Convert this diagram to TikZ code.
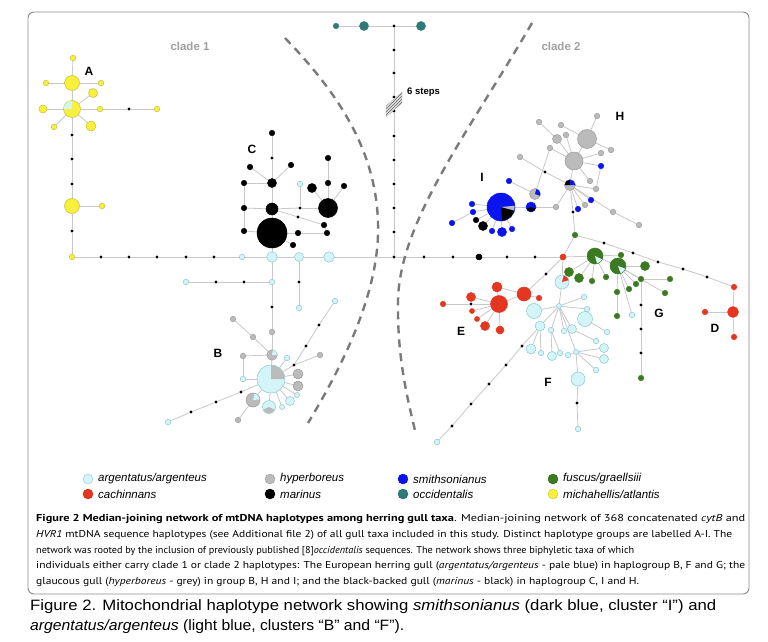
\documentclass[tikz,border=0pt]{standalone}
\usepackage{fontspec}
\setmainfont{Liberation Sans}
\newfontfamily\capfont{PT Sans}
\usepackage{graphicx}
\usetikzlibrary{backgrounds,patterns}
\definecolor{pbf}{HTML}{D3F5F7}
\definecolor{pbd}{HTML}{8CC6CC}
\definecolor{grf}{HTML}{BBBBBB}
\definecolor{grd}{HTML}{9B9B9B}
\definecolor{blf}{HTML}{0A14F0}
\definecolor{tlf}{HTML}{2F7A78}
\definecolor{gnf}{HTML}{3B7A20}
\definecolor{ylf}{HTML}{F8F03C}
\definecolor{yld}{HTML}{C8BE3A}
\definecolor{rdf}{HTML}{E5361F}
\definecolor{lnkc}{HTML}{C8C8C8}
\definecolor{cladec}{HTML}{A0A0A0}
\definecolor{dashc}{HTML}{7A7A7A}
\definecolor{framec}{HTML}{8A8A8A}
\newcommand\hp[5]{\node[#1,dia=#2] (#3) at (#4,#5) {};}
\newcommand\mv[3]{\node[MV] (#1) at (#2,#3) {};}
\newcommand\sect[5]{\fill[#5] (#1.center) -- ++(#3:#2pt) arc[start angle=#3,end angle=#4,radius=#2pt] -- cycle;}
\begin{document}
\begin{tikzpicture}[x=1pt,y=-1pt,
 hap/.style={circle,inner sep=0pt,outer sep=0pt,line width=0.5pt},
 dia/.style={minimum size=#1pt},
 PB/.style={hap,fill=pbf,draw=pbd},
 GR/.style={hap,fill=grf,draw=grd},
 BL/.style={hap,fill=blf,draw=blf},
 BK/.style={hap,fill=black,draw=black},
 TL/.style={hap,fill=tlf,draw=tlf},
 GN/.style={hap,fill=gnf,draw=gnf},
 YL/.style={hap,fill=ylf,draw=yld},
 RD/.style={hap,fill=rdf,draw=rdf},
 MV/.style={hap,fill=black,minimum size=3.4pt},
 lnk/.style={draw=lnkc,line width=0.8pt},
 grp/.style={font=\bfseries\fontsize{12}{12}\selectfont,inner sep=0pt},
 clade/.style={text=cladec,font=\bfseries\fontsize{11.5}{12}\selectfont,inner sep=0pt},
 cladeline/.style={draw=dashc,line width=2.4pt,dash pattern=on 8pt off 6pt},
 leg/.style={font=\itshape\fontsize{11.5}{12}\selectfont,anchor=west,inner sep=0pt},
 legdot/.style={circle,inner sep=0pt,minimum size=10pt,line width=0.4pt},
]
\useasboundingbox (0,0) rectangle (768,642);
\draw[framec,line width=0.9pt,rounded corners=6pt] (28,12) rectangle (749,594);

% clade dividers
\draw[cladeline] (285,38) .. controls (345,100) and (380,160) .. (378,235) .. controls (376,300) and (340,370) .. (308,423);
\draw[cladeline] (532,23) .. controls (470,130) and (400,220) .. (398,300) .. controls (397,360) and (408,400) .. (416,435);
\node[clade] (cl1) at (190,46) {clade 1};
\node[clade] (cl2) at (561,46) {clade 2};

% ---- cluster A
\hp{YL}{5.5}{a1}{73}{58}
\hp{YL}{15}{a2}{72}{83}
\hp{YL}{5.5}{a3}{46}{83}
\hp{YL}{5.5}{a4}{101}{83}
\hp{YL}{9}{a5}{93}{93}
\hp{YL}{17}{a6}{72}{109}
\hp{YL}{8}{a7}{43}{109}
\hp{YL}{5.5}{a8}{100}{109}
\mv{a9}{129}{109}
\hp{YL}{5.5}{a10}{157}{109}
\hp{YL}{5.5}{a11}{54}{127}
\hp{YL}{10}{a12}{91}{126}
\mv{m1}{72}{135}\mv{m2}{72}{159}\mv{m3}{72}{184}
\hp{YL}{15}{a13}{72}{206}
\hp{YL}{5.5}{a14}{102}{206}
\mv{m4}{72}{231}
\hp{YL}{5.5}{a15}{72}{257}
\sect{a6}{8.2}{90}{180}{pbf}
\node[grp] (lA) at (89,71) {A};

% ---- horizontal backbone
\mv{h1}{101}{257}\mv{h2}{129}{257}\mv{h3}{157}{257}\mv{h4}{186}{257}\mv{h5}{214}{257}
\hp{PB}{5.5}{p1}{242}{257}
\hp{PB}{10.5}{p2}{272}{257}
\hp{PB}{9}{p3}{299}{257}
\hp{PB}{10.5}{p4}{329}{257}
\mv{h6}{394}{257}\mv{h7}{424}{257}\mv{h8}{453}{257}
\hp{BK}{6}{h9}{479}{257}
\mv{h10}{507}{257}\mv{h11}{535}{257}
\hp{RD}{6}{r1}{563}{257}

% ---- occidentalis root
\hp{TL}{5.5}{t1}{336}{26}
\hp{TL}{9}{t2}{364}{26}
\mv{v0}{394}{26}
\hp{TL}{9}{t3}{421}{26}
\mv{v1}{394}{50}\mv{v2}{394}{73}\mv{v3}{394}{97}\mv{v4}{394}{111}
\mv{v5}{394}{136}\mv{v6}{394}{160}\mv{v7}{394}{184}\mv{v8}{394}{208}\mv{v9}{394}{232}

% ---- cluster C
\hp{BK}{5.5}{c1}{272}{133}
\mv{cm1}{272}{158}
\hp{BK}{5.5}{c2}{250}{167}
\hp{BK}{5.5}{c3}{291}{165}
\hp{BK}{9}{c4}{272}{183}
\hp{BK}{5.5}{c5}{244}{183}
\hp{BK}{12}{c6}{272}{209}
\hp{BK}{5.5}{c7}{244}{208}
\hp{BK}{30}{c8}{272}{233}
\hp{BK}{5.5}{c9}{244}{231}
\hp{PB}{5.5}{cp1}{300}{184}
\mv{cm2}{300}{208}
\hp{BK}{9}{c10}{312}{188}
\hp{BK}{5.5}{c11}{328}{158}
\hp{BK}{5.5}{c12}{328}{183}
\hp{BK}{5.5}{c13}{344}{186}
\hp{BK}{19}{c14}{328}{208}
\mv{cm3}{298}{217}
\hp{BK}{5.5}{c15}{324}{225}
\hp{BK}{5.5}{c16}{298}{233}
\hp{BK}{5.5}{c17}{327}{233}
\hp{BK}{5.5}{c18}{293}{245}
\node[grp] (lC) at (252,149) {C};

% ---- link rows to B
\mv{pm}{299}{282}
\hp{PB}{5.5}{pp}{299}{308}
\hp{PB}{5.5}{q1}{186}{282}
\mv{qm1}{216}{282}\mv{qm2}{244}{282}
\hp{PB}{5.5}{q2}{272}{282}
\mv{bm}{272}{307}

% ---- cluster B
\hp{PB}{28}{B0}{271}{379}
\hp{GR}{5.5}{bg1}{233}{319}
\hp{GR}{5.5}{bg2}{253}{337}
\hp{GR}{5.5}{b1}{272}{332}
\hp{GR}{10.5}{b2}{272}{355}
\hp{GR}{5.5}{bg3}{243}{356}
\hp{PB}{5.5}{bp1}{243}{379}
\hp{PB}{5.5}{bp2}{287}{358}
\hp{GR}{5.5}{bg4}{320}{355}
\mv{bm1}{294}{365}\mv{bm2}{306}{346}\mv{bm3}{319}{325}
\hp{PB}{5.5}{bp3}{335}{301}
\hp{GR}{10}{bg5}{298}{374}
\hp{GR}{10}{bg6}{298}{386}
\hp{PB}{5}{bp4}{297}{395}
\hp{PB}{9}{bp5}{290}{401}
\hp{PB}{5}{bp6}{282}{407}
\hp{PB}{13}{bx1}{269}{407}
\hp{GR}{14}{bx2}{253}{400}
\hp{GR}{5.5}{bg7}{238}{420}
\mv{bm4}{241}{392}\mv{bm5}{216}{402}\mv{bm6}{191}{412}
\hp{PB}{5.5}{bq}{168}{422}
\sect{B0}{13.7}{0}{90}{grf}
\sect{b2}{5}{0}{80}{pbf}
\sect{bx1}{6.2}{205}{335}{grf}
\sect{bx2}{6.7}{5}{75}{pbf}
\node[grp] (lB) at (218,353) {B};

% ---- cluster E
\hp{RD}{17}{e0}{499}{304}
\hp{RD}{10}{e1}{497}{287}
\hp{RD}{9}{e2}{471}{297}
\mv{em}{471}{304}
\hp{RD}{5.5}{e3}{443}{304}
\hp{RD}{5}{e4}{472}{311}
\hp{RD}{5}{e5}{477}{319}
\hp{RD}{9}{e6}{485}{326}
\hp{RD}{8}{e7}{500}{330}
\hp{RD}{14}{e8}{524}{294}
\hp{RD}{5.5}{e9}{539}{298}
\mv{gm}{546}{274}
\node[grp] (lE) at (461,331) {E};

% ---- cluster F
\hp{PB}{14}{f0}{562}{282}
\hp{PB}{5}{fh}{559}{306}
\hp{PB}{5.5}{f1}{584}{297}
\hp{PB}{5.5}{f2}{587}{309}
\hp{PB}{15}{f3}{585}{319}
\hp{PB}{15}{f4}{534}{311}
\hp{PB}{10}{f5}{540}{326}
\hp{PB}{5.5}{f6}{551}{330}
\hp{PB}{5.5}{f7}{564}{331}
\hp{PB}{9}{f8}{572}{329}
\hp{PB}{5.5}{f9}{596}{341}
\hp{PB}{5.5}{f10}{607}{332}
\hp{PB}{10}{f11}{531}{349}
\hp{PB}{5.5}{f12}{541}{353}
\hp{PB}{9}{f13}{552}{356}
\hp{PB}{5.5}{f14}{560}{353}
\hp{PB}{5.5}{f15}{568}{355}
\hp{PB}{5}{fh2}{576}{352}
\hp{PB}{9}{f16}{604}{348}
\hp{PB}{9}{f17}{604}{359}
\hp{PB}{5.5}{f18}{596}{370}
\hp{PB}{14}{f19}{578}{379}
\mv{fm1}{577}{403}
\hp{PB}{5.5}{f20}{578}{429}
\mv{fb1}{522}{346}\mv{fb2}{506}{365}\mv{fb3}{489}{384}\mv{fb4}{471}{404}\mv{fb5}{452}{426}
\hp{PB}{5.5}{fq}{437}{442}
\sect{f0}{6.8}{15}{75}{rdf}
\node[grp] (lF) at (548,382) {F};

% ---- cluster G
\hp{GN}{5.5}{g0}{575}{235}
\hp{GN}{16}{G1}{595}{256}
\hp{GN}{16}{G2}{618}{266}
\hp{GN}{9}{g1}{569}{272}
\hp{GN}{9}{g2}{579}{278}
\hp{GN}{5.5}{g3}{592}{281}
\hp{GN}{5.5}{g4}{606}{277}
\hp{GN}{5.5}{g5}{621}{255}
\hp{GN}{9}{g6}{645}{266}
\hp{GN}{5.5}{g7}{636}{284}
\hp{GN}{5.5}{g8}{629}{289}
\hp{GN}{5.5}{g9}{641}{279}
\hp{GN}{5.5}{g10}{670}{279}
\hp{GN}{5.5}{g11}{665}{293}
\hp{GN}{5.5}{g12}{617}{292}
\hp{GN}{5.5}{g13}{617}{316}
\hp{PB}{5.5}{gp}{632}{315}
\mv{gm1}{641}{305}\mv{gm2}{641}{329}\mv{gm3}{641}{353}
\hp{GN}{5.5}{g14}{641}{378}
\sect{G1}{7.7}{-75}{-25}{pbf}
\sect{G2}{7.7}{-70}{-20}{pbf}
\node[grp] (lG) at (659,313) {G};

% ---- cluster D
\mv{dm1}{604}{243}\mv{dm2}{633}{253}\mv{dm3}{658}{262}\mv{dm4}{683}{269}\mv{dm5}{707}{277}
\hp{RD}{5.5}{d1}{734}{287}
\hp{RD}{11}{d2}{733}{312}
\hp{RD}{5.5}{d3}{734}{337}
\hp{RD}{5.5}{d4}{705}{312}
\node[grp] (lD) at (715,328) {D};

% ---- clusters I and H
\hp{BL}{28}{I0}{501}{207}
\hp{BL}{5.5}{i1}{472}{204}
\hp{BL}{5.5}{i2}{473}{212}
\hp{BL}{5.5}{i3}{452}{223}
\hp{BK}{5.5}{i4}{476}{220}
\hp{BK}{9}{i5}{483}{226}
\hp{BL}{5.5}{i6}{492}{231}
\hp{BL}{9}{i7}{502}{232}
\hp{BL}{5.5}{i8}{512}{229}
\hp{BL}{5.5}{i9}{509}{181}
\hp{BL}{10}{i10}{531}{207}
\hp{GR}{5.5}{hh1}{556}{207}
\hp{GR}{11}{hx}{570}{185}
\hp{GR}{11}{hy}{535}{194}
\mv{hm1}{545}{172}
\hp{GR}{5.5}{hg1}{520}{157}
\hp{GR}{5.5}{hg2}{550}{148}
\hp{GR}{18}{HG1}{574}{161}
\hp{GR}{19}{HG2}{587}{139}
\hp{GR}{9}{hg3}{557}{139}
\hp{GR}{5.5}{hg4}{566}{135}
\hp{GR}{5.5}{hg5}{561}{125}
\hp{GR}{5.5}{hg6}{539}{122}
\hp{GR}{5.5}{hg7}{597}{116}
\hp{GR}{5.5}{hg8}{611}{150}
\hp{GR}{5.5}{hg9}{601}{153}
\hp{BL}{5.5}{hb1}{601}{166}
\hp{GR}{5.5}{hg10}{590}{181}
\hp{GR}{5.5}{hg11}{596}{189}
\hp{BL}{5.5}{hb2}{591}{200}
\hp{GR}{5.5}{hg12}{585}{205}
\hp{BL}{5.5}{hb3}{578}{209}
\mv{im2}{573}{212}
\hp{GR}{5.5}{hg13}{613}{212}
\hp{GR}{5.5}{hg14}{639}{225}
\sect{I0}{13.7}{-85}{-15}{black}
\sect{I0}{13.7}{-15}{5}{grf}
\sect{i10}{4.8}{200}{340}{black}
\sect{hx}{5.3}{90}{180}{black}
\sect{hx}{5.3}{0}{90}{blf}
\sect{hy}{5.3}{-20}{75}{blf}
\node[grp] (lI) at (482,177) {I};
\node[grp] (lH) at (620,116) {H};

% ---- 6 steps
\fill[gray!25] (386,117) -- (386,106) -- (402,92) -- (402,103) -- cycle;
\fill[pattern=north east lines,pattern color=gray!80!black] (386,117) -- (386,106) -- (402,92) -- (402,103) -- cycle;
\draw[gray!60,line width=0.3pt] (386,117) -- (386,106) -- (402,92) -- (402,103) -- cycle;
\node[font=\bfseries\fontsize{9.5}{10}\selectfont,anchor=west,inner sep=0pt] (six) at (407,92) {6 steps};

% ---- connectors
\begin{pgfonlayer}{background}
\foreach \a/\b in {a1/a2,a2/a3,a2/a4,a2/a6,a6/a7,a6/a8,a8/a9,a9/a10,a6/a5,a6/a11,a6/a12,a6/m1,m1/m2,m2/m3,m3/a13,a13/a14,a13/m4,m4/a15,
 a15/h1,h1/h2,h2/h3,h3/h4,h4/h5,h5/p1,p1/p2,p2/p3,p3/p4,p4/h6,h6/h7,h7/h8,h8/h9,h9/h10,h10/h11,h11/r1,
 t1/t2,t2/v0,v0/t3,v0/v1,v1/v2,v2/v3,v3/v4,v4/v5,v5/v6,v6/v7,v7/v8,v8/v9,v9/h6,
 c1/cm1,cm1/c4,c4/c2,c4/c3,c4/c5,c5/c7,c7/c9,c4/c6,c7/c6,c9/c8,c6/c8,c6/cm2,cm2/c14,cm2/cp1,c10/c14,c14/c12,c12/c11,c14/c13,c6/cm3,cm3/c15,c15/c17,c8/c16,c16/c17,c8/c18,c8/p2,
 p3/pm,pm/pp,q1/qm1,qm1/qm2,qm2/q2,p2/q2,q2/bm,bm/b1,b1/b2,b2/B0,
 bg1/bg2,bg2/b2,bg3/b2,bg3/bp1,bp1/B0,B0/bp2,B0/bm1,bm1/bg4,bm1/bm2,bm2/bm3,bm3/bp3,B0/bg5,B0/bg6,B0/bp4,B0/bp5,B0/bp6,B0/bx1,B0/bx2,bx2/bg7,B0/bm4,bm4/bm5,bm5/bm6,bm6/bq,
 e0/e1,e0/e2,e0/em,em/e3,e0/e4,e0/e5,e0/e6,e0/e7,e0/e8,e1/e8,e8/e9,e8/gm,gm/r1,
 r1/f0,f0/fh,fh/f1,fh/f2,f2/f3,f3/f10,fh/f4,fh/f5,fh/f6,fh/f7,fh/f8,f8/f9,f5/f11,f5/f12,f6/f13,f6/f14,fh/fh2,fh2/f15,fh2/f16,fh2/f17,fh2/f18,fh2/f19,f19/fm1,fm1/f20,f5/fb1,fb1/fb2,fb2/fb3,fb3/fb4,fb4/fb5,fb5/fq,
 g0/r1,r1/G1,G1/g1,G1/g2,G1/g3,G1/g4,G1/g5,G1/G2,G2/g6,G2/g7,G2/g8,G2/g9,G2/g12,G2/gp,g9/g10,G2/g11,g12/g13,g9/gm1,gm1/gm2,gm2/gm3,gm3/g14,
 g0/dm1,dm1/dm2,dm2/dm3,dm3/dm4,dm4/dm5,dm5/d1,d1/d2,d2/d3,d2/d4,
 I0/i1,I0/i2,i2/i3,I0/i4,I0/i5,I0/i6,I0/i7,I0/i8,I0/i10,i10/hh1,hh1/hx,i9/hy,hy/hg2,hg1/hm1,hm1/hx,hx/HG1,HG1/hg3,HG1/hg2,HG1/hg9,HG1/hb1,HG1/HG2,HG2/hg7,HG2/hg8,HG2/hg5,HG1/hg4,hg6/hg3,HG1/hg10,hb1/hg11,hg11/hx,hx/hb2,hx/hg12,hx/hb3,hx/im2,hx/hg13,hg13/hg14,im2/g0}
 {\draw[lnk] (\a) -- (\b);}
\end{pgfonlayer}

% ---- legend
\node[legdot,fill=pbf,draw=pbd] (l1) at (88,479) {};
\node[leg] (lt1) at (98,479) {argentatus/argenteus};
\node[legdot,fill=rdf,draw=rdf!80!black] (l2) at (88,494) {};
\node[leg] (lt2) at (98,494) {cachinnans};
\node[legdot,fill=grf,draw=grd] (l3) at (270,479) {};
\node[leg] (lt3) at (280,479) {hyperboreus};
\node[legdot,fill=black,draw=black] (l4) at (270,494) {};
\node[leg] (lt4) at (280,494) {marinus};
\node[legdot,fill=blf,draw=blf!80!black] (l5) at (403,479) {};
\node[leg] (lt5) at (413,479) {smithsonianus};
\node[legdot,fill=tlf,draw=tlf!80!black] (l6) at (403,494) {};
\node[leg] (lt6) at (413,494) {occidentalis};
\node[legdot,fill=gnf,draw=gnf!80!black] (l7) at (553,479) {};
\node[leg] (lt7) at (563,479) {fuscus/graellsiii};
\node[legdot,fill=ylf,draw=yld] (l8) at (553,494) {};
\node[leg] (lt8) at (563,494) {michahellis/atlantis};

% ---- caption inside box
\node[anchor=west,inner sep=0pt] (cap1) at (36,519) {\resizebox{709pt}{\height}{\capfont\fontsize{10}{12}\selectfont\textbf{Figure 2 Median-joining network of mtDNA haplotypes among herring gull taxa}. Median-joining network of 368 concatenated \textit{cytB} and}};
\node[anchor=west,inner sep=0pt] (cap2) at (36,535) {\resizebox{696pt}{\height}{\capfont\fontsize{10}{12}\selectfont\textit{HVR1} mtDNA sequence haplotypes (see Additional file 2) of all gull taxa included in this study. Distinct haplotype groups are labelled A-I. The}};
\node[anchor=west,inner sep=0pt] (cap3) at (36,551) {\resizebox{598pt}{\height}{\capfont\fontsize{10}{12}\selectfont network was rooted by the inclusion of previously published [8]\textit{occidentalis} sequences. The network shows three biphyletic taxa of which}};
\node[anchor=west,inner sep=0pt] (cap4) at (36,566) {\resizebox{709pt}{\height}{\capfont\fontsize{10}{12}\selectfont individuals either carry clade 1 or clade 2 haplotypes: The European herring gull (\textit{argentatus/argenteus} - pale blue) in haplogroup B, F and G; the}};
\node[anchor=west,inner sep=0pt] (cap5) at (36,582) {\resizebox{603pt}{\height}{\capfont\fontsize{10}{12}\selectfont glaucous gull (\textit{hyperboreus} - grey) in group B, H and I; and the black-backed gull (\textit{marinus} - black) in haplogroup C, I and H.}};

% ---- caption below box
\node[anchor=west,inner sep=0pt] (fc1) at (30,607) {\resizebox{686pt}{\height}{\fontsize{15}{17}\selectfont Figure 2. Mitochondrial haplotype network showing \textit{smithsonianus} (dark blue, cluster “I”) and}};
\node[anchor=west,inner sep=0pt] (fc2) at (30,627) {\resizebox{374pt}{\height}{\fontsize{15}{17}\selectfont\textit{argentatus/argenteus} (light blue, clusters “B” and “F”).}};
\end{tikzpicture}
\end{document}
